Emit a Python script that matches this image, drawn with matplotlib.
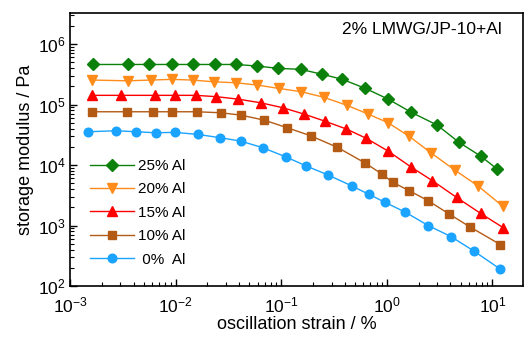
import numpy as np
import matplotlib
matplotlib.use("Agg")
import matplotlib.pyplot as plt
from matplotlib.ticker import LogLocator, NullFormatter

plt.rcParams['font.family'] = ['Liberation Sans', 'DejaVu Sans']
plt.rcParams['mathtext.fontset'] = 'custom'
plt.rcParams['mathtext.rm'] = 'Liberation Sans'

# strain (%) and storage modulus (Pa)
x25 = [1.64e-3, 3.53e-3, 5.58e-3, 9.3e-3, 0.0146, 0.0234, 0.0376, 0.0594, 0.0933, 0.153,
       0.246, 0.380, 0.628, 1.03, 1.71, 3.0, 4.84, 7.73, 11.1]
g25 = [4.6e5, 4.6e5, 4.6e5, 4.6e5, 4.6e5, 4.6e5, 4.6e5, 4.33e5, 3.97e5, 3.82e5,
       3.16e5, 2.61e5, 1.85e5, 1.23e5, 7.43e4, 4.58e4, 2.37e4, 1.41e4, 8.6e3]

x20 = [1.63e-3, 3.51e-3, 5.8e-3, 9.2e-3, 0.0145, 0.0229, 0.0376, 0.0594, 0.0947, 0.155,
       0.253, 0.421, 0.665, 1.03, 1.62, 2.61, 4.41, 7.33, 12.5]
g20 = [2.54e5, 2.47e5, 2.54e5, 2.61e5, 2.54e5, 2.38e5, 2.29e5, 2.10e5, 1.85e5, 1.63e5,
       1.32e5, 9.7e4, 6.97e4, 5.0e4, 3.01e4, 1.6e4, 8.26e3, 4.5e3, 2.1e3]

x15 = [1.63e-3, 3.06e-3, 6.32e-3, 9.8e-3, 0.0155, 0.0243, 0.039, 0.064, 0.104, 0.164,
       0.258, 0.415, 0.642, 1.03, 1.68, 2.71, 4.58, 7.73, 12.7]
g15 = [1.42e5, 1.42e5, 1.42e5, 1.42e5, 1.42e5, 1.35e5, 1.23e5, 1.07e5, 8.85e4, 6.97e4,
       5.33e4, 3.94e4, 2.76e4, 1.70e4, 9.4e3, 5.5e3, 2.92e3, 1.59e3, 9.2e2]

x10 = [1.63e-3, 3.43e-3, 6.05e-3, 9.3e-3, 0.0158, 0.0267, 0.0413, 0.0687, 0.114, 0.190,
       0.341, 0.618, 0.906, 1.14, 1.62, 2.45, 3.9, 6.19, 11.9]
g10 = [7.6e4, 7.6e4, 7.6e4, 7.6e4, 7.6e4, 7.32e4, 6.7e4, 5.54e4, 4.14e4, 3.05e4,
       1.96e4, 1.09e4, 7.05e3, 5.18e3, 3.79e3, 2.59e3, 1.55e3, 9.4e2, 4.85e2]

x0 = [1.47e-3, 2.74e-3, 4.24e-3, 6.46e-3, 9.8e-3, 0.0162, 0.0265, 0.0413, 0.0672, 0.110,
      0.173, 0.279, 0.469, 0.675, 0.962, 1.50, 2.47, 4.08, 6.68, 11.9]
g0 = [3.55e4, 3.69e4, 3.55e4, 3.42e4, 3.47e4, 3.21e4, 2.83e4, 2.49e4, 1.93e4, 1.37e4,
      9.63e3, 6.84e3, 4.5e3, 3.29e3, 2.42e3, 1.66e3, 1.0e3, 6.53e2, 3.79e2, 1.9e2]

series = [
    (x25, g25, '25% Al', '#0b800b', 'D', 6.3),
    (x20, g20, '20% Al', '#ff8c1a', 'v', 7.5),
    (x15, g15, '15% Al', '#ff0000', '^', 7.5),
    (x10, g10, '10% Al', '#b35a14', 's', 5.2),
    (x0, g0, ' 0%  Al', '#1aa3ff', 'o', 6.2),
]

fig = plt.figure(figsize=(5.24, 3.37), dpi=100)
ax = fig.add_axes([0.1336, 0.1513, 0.998 - 0.1336, 0.9623 - 0.1513])

for x, y, lab, col, m, ms in series:
    ax.plot(x, y, color=col, marker=m, markersize=ms, lw=1.0, label=lab,
            markeredgecolor=col)

ax.set_xscale('log')
ax.set_yscale('log')
ax.set_xlim(1e-3, 19.5)
ax.set_ylim(1e2, 3.3e6)

ax.xaxis.set_major_locator(LogLocator(base=10, numticks=10))
ax.yaxis.set_major_locator(LogLocator(base=10, numticks=10))
ax.xaxis.set_minor_locator(LogLocator(base=10, subs=np.arange(2, 10), numticks=10))
ax.yaxis.set_minor_locator(LogLocator(base=10, subs=np.arange(2, 10), numticks=10))
ax.xaxis.set_minor_formatter(NullFormatter())
ax.yaxis.set_minor_formatter(NullFormatter())

ax.tick_params(which='major', direction='in', length=5, width=1.0, labelsize=12.5)
ax.tick_params(axis='x', which='major', pad=7)
ax.tick_params(axis='y', which='major', pad=3)
ax.tick_params(which='minor', direction='in', length=3, width=0.8)
for s in ax.spines.values():
    s.set_linewidth(1.2)

ax.set_xlabel('oscillation strain / %', fontsize=13, labelpad=0)
ax.set_ylabel('storage modulus / Pa', fontsize=13, labelpad=3)

ax.text(0.954, 0.94, '2% LMWG/JP-10+Al', transform=ax.transAxes,
        ha='right', va='center', fontsize=12.5)

ax.legend(loc='lower left', bbox_to_anchor=(0.03, 0.048), frameon=False,
          fontsize=11, handlelength=2.9, handletextpad=0.25, labelspacing=0.62,
          numpoints=1, borderaxespad=0)

fig.savefig('out.png', dpi=100)
